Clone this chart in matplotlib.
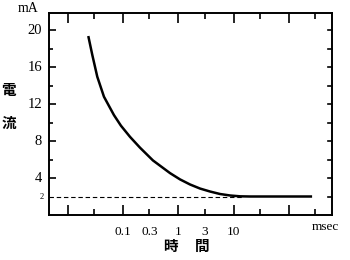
import matplotlib
matplotlib.use("Agg")
import matplotlib.pyplot as plt
from matplotlib.ticker import FixedLocator, NullFormatter

# data
time_ms = [0.0236, 0.0279, 0.0343, 0.0453, 0.0687, 0.092, 0.134, 0.203, 0.348,
           0.708, 1.074, 1.63, 2.47, 3.74, 5.68, 8.61, 13.06, 19.8, 60.0, 262.0]
current_mA = [19.35, 17.30, 14.95, 12.79, 10.80, 9.65, 8.45, 7.28, 5.90,
              4.53, 3.85, 3.30, 2.86, 2.54, 2.27, 2.11, 2.02, 2.0, 2.0, 2.0]
threshold = 2.0
x_major = [0.01, 0.1, 1, 10, 100]
x_minor = [0.03, 0.3, 3, 30, 300]
x_labels = {0.1: "0.1", 0.3: "0.3", 1: "1", 3: "3", 10: "10"}
y_major = [4, 8, 12, 16, 20]
y_minor = [6, 10, 14, 18]
y_right = [2, 4, 6, 8, 10, 12, 14, 16, 18, 20]

serif = "Liberation Serif"
jp = ["Noto Sans CJK JP", "DejaVu Sans"]
W, H = 350, 260


def fx(x):
    return x / W


def fy(y):
    return 1 - y / H


fig = plt.figure(figsize=(3.5, 2.6), dpi=100)
ax = fig.add_axes([fx(49), fy(215), (332 - 49) / W, (215 - 13) / H])
ax.set_xscale("log")
ax.set_xlim(0.0046, 600)
ax.set_ylim(0, 21.84)

ax.plot(time_ms, current_mA, color="black", lw=1.8, solid_capstyle="butt",
        solid_joinstyle="round")
ax.plot([0.0046, 14], [threshold, threshold], color="black", lw=0.8,
        dashes=(4, 2.5))

for s in ax.spines.values():
    s.set_linewidth(1.4)

ax.xaxis.set_major_locator(FixedLocator(x_major))
ax.xaxis.set_minor_locator(FixedLocator(x_minor))
ax.xaxis.set_major_formatter(NullFormatter())
ax.xaxis.set_minor_formatter(NullFormatter())
ax.tick_params(axis="x", which="major", direction="in", length=7, width=1.2,
               top=True, bottom=True)
ax.tick_params(axis="x", which="minor", direction="in", length=4, width=1.2,
               top=True, bottom=True)

ax.yaxis.set_major_locator(FixedLocator(y_major))
ax.yaxis.set_minor_locator(FixedLocator(y_minor))
ax.yaxis.set_major_formatter(NullFormatter())
ax.tick_params(axis="y", which="major", direction="in", length=5, width=1.2,
               left=True, right=False)
ax.tick_params(axis="y", which="minor", direction="in", length=3, width=1.2,
               left=True, right=False)
for v in y_right:
    ax.plot([1, 0.986], [v, v], transform=ax.get_yaxis_transform(),
            color="black", lw=1.2, clip_on=False)

# tick labels as text
ytr = ax.get_yaxis_transform()
for v in y_major:
    ax.text(-0.024, v, str(v), transform=ytr, ha="right", va="center",
            fontsize=10.5, family=serif)
ax.text(-0.02, threshold, "2", transform=ytr, ha="right", va="center",
        fontsize=6, family=serif)
xtr = ax.get_xaxis_transform()
for v, lab in x_labels.items():
    ax.text(v, -0.055, lab, transform=xtr, ha="center", va="top",
            fontsize=9.5, family=serif)
fig.text(fx(312), fy(227), "msec", ha="left", va="center", fontsize=9.5,
         family=serif)

fig.text(fx(28.5), fy(8), "mA", ha="center", va="center", fontsize=10,
         family=serif)
fig.text(fx(8.5), fy(90), "電", ha="center", va="center", fontsize=10.5,
         family=jp, fontweight="bold")
fig.text(fx(8.5), fy(123), "流", ha="center", va="center", fontsize=10.5,
         family=jp, fontweight="bold")
fig.text(fx(170.5), fy(246), "時", ha="center", va="center", fontsize=10.5,
         family=jp, fontweight="bold")
fig.text(fx(202.5), fy(246), "間", ha="center", va="center", fontsize=10.5,
         family=jp, fontweight="bold")

fig.savefig("out.png", dpi=100)
